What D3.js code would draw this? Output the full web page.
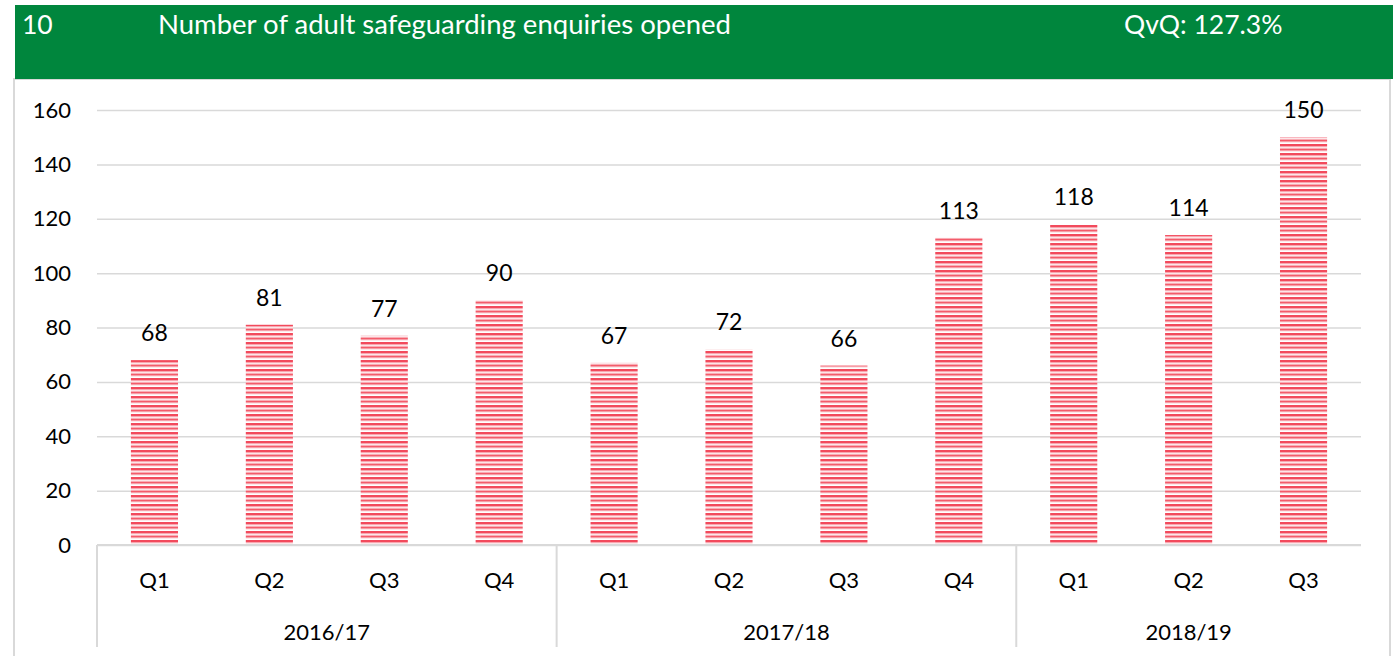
<!DOCTYPE html>
<html>
<head>
<meta charset="utf-8">
<script src="https://cdn.jsdelivr.net/npm/d3@7"></script>
<style>
  body { margin: 0; background: #fff; }
  svg text { font-family: Lato, "Open Sans", sans-serif; }
</style>
</head>
<body>
<svg id="chart" width="1399" height="656"></svg>
<script>
/* ------------------------- DATA ------------------------- */

let years = ["2016/17", "2017/18", "2018/19"]
let quarters = ["Q1", "Q2", "Q3", "Q4", "Q1", "Q2", "Q3", "Q4", "Q1", "Q2", "Q3"]
let quarterYear = [0, 0, 0, 0, 1, 1, 1, 1, 2, 2, 2]     // indice in years
let values = [68, 81, 77, 90, 67, 72, 66, 113, 118, 114, 150]
let yTicks = [0, 20, 40, 60, 80, 100, 120, 140, 160]

let header = { num: "10", title: "Number of adult safeguarding enquiries opened", qvq: "QvQ: 127.3%" }

/* ------------------------- SETUP ------------------------- */

let svg = d3.select("#chart")
let plot = { left: 97, right: 1361, top: 110, bottom: 545 }

let x = d3.scaleBand()
    .domain(d3.range(values.length))
    .range([plot.left, plot.right])
    .paddingInner(0.59)
    .paddingOuter(0.295)

let slot = (plot.right - plot.left) / values.length

let y = d3.scaleLinear()
    .domain([0, 160])
    .range([plot.bottom, plot.top])

// pattern a righe orizzontali
let defs = svg.append("defs")
let pat = defs.append("pattern")
    .attr("id", "stripes")
    .attr("patternUnits", "userSpaceOnUse")
    .attr("width", 8).attr("height", 9)
pat.append("rect").attr("width", 8).attr("height", 9).attr("fill", "#fff")
pat.append("rect").attr("y", 0).attr("width", 8).attr("height", 2.5).attr("fill", "#f24a5c")
pat.append("rect").attr("y", 4.5).attr("width", 8).attr("height", 2.2).attr("fill", "#f35c6b")
pat.append("rect").attr("y", 2.5).attr("width", 8).attr("height", 0.8).attr("fill", "#f9aab3")
pat.append("rect").attr("y", 6.7).attr("width", 8).attr("height", 0.7).attr("fill", "#fbc6cc")

/* ------------------------- FRAME + HEADER ------------------------- */

svg.append("rect")
    .attr("x", 14).attr("y", 79).attr("width", 1376).attr("height", 590)
    .attr("fill", "#fff").attr("stroke", "#d9d9d9").attr("stroke-width", 2)

svg.append("rect")
    .attr("x", 15).attr("y", 5).attr("width", 1378).attr("height", 74)
    .attr("fill", "#00863d")

let hdr = svg.append("g").attr("fill", "#fff").style("font-size", "26.5px")
hdr.append("text").attr("x", 22).attr("y", 34).text(header.num)
hdr.append("text").attr("x", 158).attr("y", 34).style("font-size", "27.5px").text(header.title)
hdr.append("text").attr("x", 1124).attr("y", 34).text(header.qvq)

/* ------------------------- GRID + Y AXIS ------------------------- */

let yAxis = svg.append("g")
    .attr("transform", "translate(" + plot.left + ",0)")
    .call(d3.axisLeft(y).tickValues(yTicks).tickSize(-(plot.right - plot.left)).tickPadding(26))

yAxis.select(".domain").remove()
yAxis.selectAll(".tick line").attr("stroke", "#d9d9d9").attr("stroke-width", 1.5)
yAxis.selectAll(".tick text")
    .attr("fill", "#000")
    .style("font-size", "22px")
    .style("font-family", "Lato, 'Open Sans', sans-serif")

/* ------------------------- BARS ------------------------- */

svg.append("g")
    .selectAll("rect")
    .data(values)
    .enter().append("rect")
        .attr("x", function (d, i) { return x(i) })
        .attr("y", function (d) { return y(d) })
        .attr("width", x.bandwidth())
        .attr("height", function (d) { return y(0) - y(d) })
        .attr("fill", "url(#stripes)")

svg.append("g")
    .selectAll("text")
    .data(values)
    .enter().append("text")
        .attr("x", function (d, i) { return x(i) + x.bandwidth() / 2 })
        .attr("y", function (d) { return y(d) - 19 })
        .attr("text-anchor", "middle")
        .style("font-size", "23px")
        .attr("fill", "#000")
        .text(function (d) { return d })

/* ------------------------- CATEGORY AXIS ------------------------- */

svg.append("line")
    .attr("x1", plot.left).attr("x2", plot.right)
    .attr("y1", plot.bottom).attr("y2", plot.bottom)
    .attr("stroke", "#d9d9d9").attr("stroke-width", 2)

svg.append("g")
    .selectAll("text")
    .data(quarters)
    .enter().append("text")
        .attr("x", function (d, i) { return x(i) + x.bandwidth() / 2 })
        .attr("y", 588)
        .attr("text-anchor", "middle")
        .style("font-size", "22px")
        .text(function (d) { return d })

// separatori dei gruppi: inizio di ogni anno
let groupStart = years.map(function (yr, k) { return quarterYear.indexOf(k) })
let groupEnd = years.map(function (yr, k) { return quarterYear.lastIndexOf(k) + 1 })

svg.append("g")
    .selectAll("line")
    .data(groupStart)
    .enter().append("line")
        .attr("x1", function (b) { return plot.left + b * slot })
        .attr("x2", function (b) { return plot.left + b * slot })
        .attr("y1", plot.bottom).attr("y2", 647)
        .attr("stroke", "#d9d9d9").attr("stroke-width", 2)

svg.append("g")
    .selectAll("text")
    .data(years)
    .enter().append("text")
        .attr("x", function (d, k) { return plot.left + (groupStart[k] + groupEnd[k]) / 2 * slot })
        .attr("y", 640)
        .attr("text-anchor", "middle")
        .style("font-size", "22px")
        .text(function (d) { return d })
</script>
</body>
</html>
